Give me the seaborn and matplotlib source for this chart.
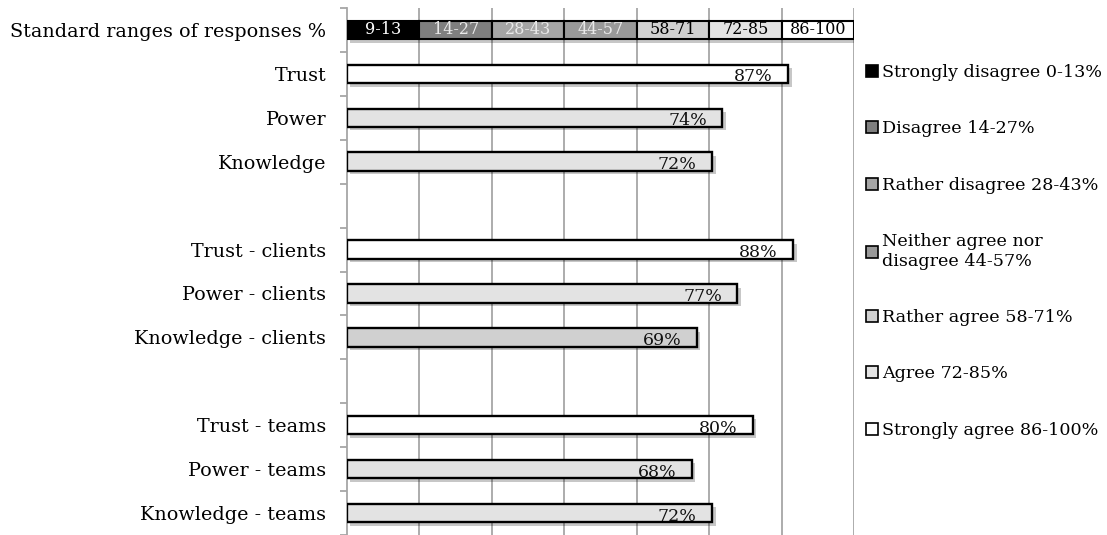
import matplotlib
matplotlib.use("Agg")
import matplotlib.pyplot as plt
import matplotlib.patheffects as pe
from matplotlib.patches import Patch
from matplotlib.ticker import FixedLocator
import numpy as np
import pandas as pd
import seaborn as sns

# Row order on the vertical axis (blank rows separate the three groups)
rows = ["Standard ranges of responses %",
        "Trust", "Power", "Knowledge", " ",
        "Trust - clients", "Power - clients", "Knowledge - clients", "  ",
        "Trust - teams", "Power - teams", "Knowledge - teams"]

items = ["Trust", "Power", "Knowledge",
         "Trust - clients", "Power - clients", "Knowledge - clients",
         "Trust - teams", "Power - teams", "Knowledge - teams"]
values = [87, 74, 72, 88, 77, 69, 80, 68, 72]
bar_colors = ["#ffffff", "#e3e3e3", "#e3e3e3",
              "#ffffff", "#e3e3e3", "#d0d0d0",
              "#ffffff", "#e3e3e3", "#e3e3e3"]

# Reference scale of response ranges
range_labels = ["9-13", "14-27", "28-43", "44-57", "58-71", "72-85", "86-100"]
range_colors = ["#000000", "#7f7f7f", "#a5a5a5", "#999999", "#d0d0d0", "#e3e3e3", "#ffffff"]
range_text_colors = ["white", "#e8e8e8", "#e8e8e8", "#e8e8e8", "black", "black", "black"]

legend_labels = ["Strongly disagree 0-13%", "Disagree 14-27%", "Rather disagree 28-43%",
                 "Neither agree nor\ndisagree 44-57%", "Rather agree 58-71%",
                 "Agree 72-85%", "Strongly agree 86-100%"]

sns.set_theme(style="white")
plt.rcParams["font.family"] = ["DejaVu Serif"]
plt.rcParams["text.color"] = "black"

W, H = 1107, 535
fig = plt.figure(figsize=(W / 100, H / 100), dpi=100)
ax = fig.add_axes([347 / W, 0.0, (854 - 347) / W, (535 - 8) / H])

BAR_H = 0.42
shadow = [pe.SimplePatchShadow(offset=(2.5, -2.5), shadow_rgbFace="#000000", alpha=0.22), pe.Normal()]

df = pd.DataFrame({"item": items, "value": values})
palette = dict(zip(items, bar_colors))
sns.barplot(data=df, x="value", y="item", hue="item", order=rows, hue_order=items,
            palette=palette, dodge=False, width=BAR_H, legend=False,
            edgecolor="black", linewidth=1.7, saturation=1, ax=ax, zorder=3)
for p in ax.patches:
    p.set_path_effects(shadow)

# Stacked scale bar in the top row
seg = 100 / len(range_labels)
y0 = rows.index("Standard ranges of responses %")
for k, (lab, col, tcol) in enumerate(zip(range_labels, range_colors, range_text_colors)):
    ax.barh(y0, seg, left=k * seg, height=BAR_H, color=col, edgecolor="black",
            linewidth=1.5, zorder=3, path_effects=shadow)
    ax.text(k * seg + seg / 2, y0, lab, ha="center", va="center",
            color=tcol, fontsize=11.5, zorder=4)

# Value labels at the inner right end of each bar
for item, v in zip(items, values):
    yi = rows.index(item)
    ax.text(v - 3.0, yi + BAR_H / 2 - 0.04, f"{v}%", ha="right", va="baseline",
            fontsize=12.5, color="#111111", zorder=4)

ax.set_xlim(0, 100)
ax.set_ylim(len(rows) - 0.5, -0.5)
ax.set_xlabel("")
ax.set_ylabel("")
ax.xaxis.set_major_locator(FixedLocator(np.arange(1, 8) * seg))
ax.set_xticklabels([])
ax.tick_params(axis="x", length=0)
ax.grid(axis="x", color="#a6a6a6", linewidth=1.3, zorder=0)
ax.set_axisbelow(True)

ax.set_yticks(range(len(rows)))
ax.set_yticklabels(rows, fontsize=13.8, color="black")
ax.yaxis.set_minor_locator(FixedLocator(np.arange(len(rows) + 1) - 0.5))
ax.tick_params(axis="y", which="major", length=0, pad=15)
ax.tick_params(axis="y", which="minor", length=5, width=1.3, color="#a6a6a6", left=True)

for s in ["top", "right", "bottom"]:
    ax.spines[s].set_visible(False)
ax.spines["left"].set_color("#a6a6a6")
ax.spines["left"].set_linewidth(1.3)

handles = [Patch(facecolor=c, edgecolor="black", linewidth=1.2) for c in range_colors]
fig.legend(handles, legend_labels, loc="upper left", bbox_to_anchor=(866 / W, 1 - 64 / H),
           frameon=False, fontsize=12.6, handlelength=0.7, handleheight=0.7,
           handletextpad=0.2, labelspacing=2.25, borderaxespad=0, borderpad=0,
           labelcolor="black")

fig.savefig("out.png", dpi=100)
